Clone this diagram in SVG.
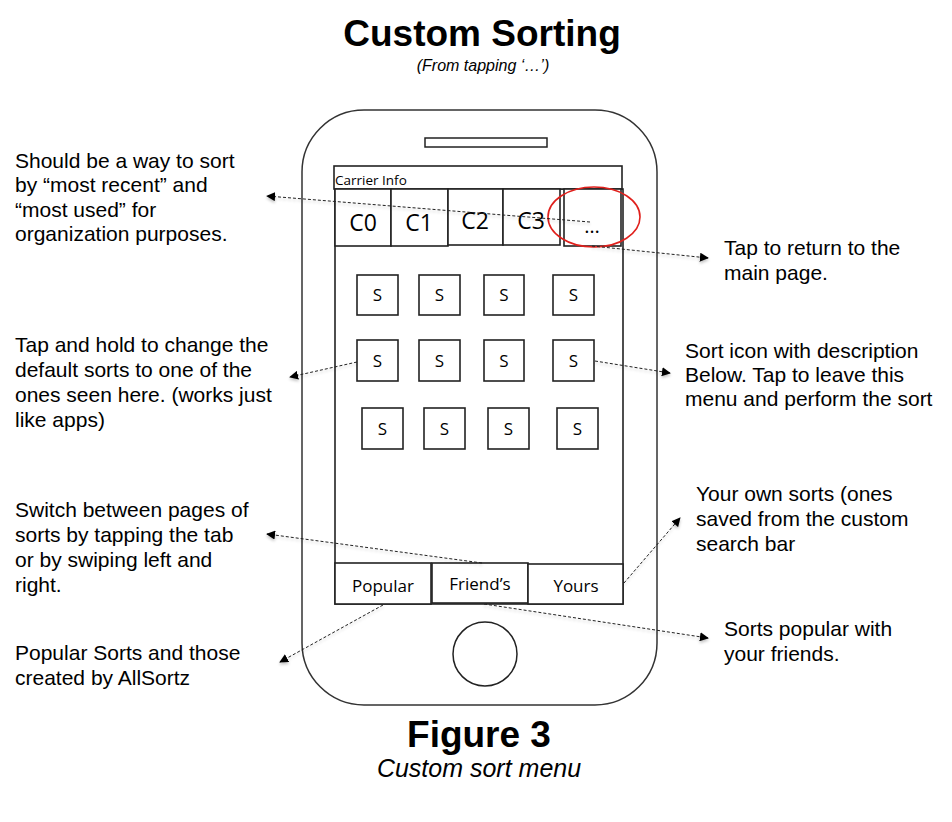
<svg xmlns="http://www.w3.org/2000/svg" width="952" height="822" viewBox="0 0 952 822">
  <defs>
    <marker id="arrow" viewBox="0 0 10 10" refX="9" refY="5" markerWidth="9" markerHeight="9" markerUnits="userSpaceOnUse" orient="auto">
      <path d="M0,0 L10,5 L0,10 Z" fill="#000"/>
    </marker>
    <filter id="soft" x="-10%" y="-50%" width="120%" height="200%">
      <feGaussianBlur in="SourceAlpha" stdDeviation="1.5"/>
      <feOffset dx="0" dy="2" result="b"/>
      <feComponentTransfer><feFuncA type="linear" slope="0.25"/></feComponentTransfer>
      <feMerge><feMergeNode/><feMergeNode in="SourceGraphic"/></feMerge>
    </filter>
    <style>
      .note { font-family: "Liberation Sans", Arial, sans-serif; font-size: 21px; fill: #000; }
      .ui { font-family: "Open Sans", "Noto Sans", sans-serif; fill: #000; }
      .box { fill: #fff; stroke: #222; stroke-width: 1.6; }
      .link { fill: none; stroke: #222; stroke-width: 1; stroke-dasharray: 3 2; marker-end: url(#arrow); }
    </style>
  </defs>

  <rect width="952" height="822" fill="#fff"/>

  <!-- Title -->
  <g id="title">
    <text x="482" y="46" text-anchor="middle" font-family="Liberation Sans, Arial, sans-serif" font-weight="bold" font-size="37">Custom Sorting</text>
    <text x="483" y="71" text-anchor="middle" font-family="Liberation Sans, Arial, sans-serif" font-style="italic" font-size="16">(From tapping ‘…’)</text>
  </g>

  <!-- Phone body -->
  <g id="phone">
    <rect x="302" y="110" width="355" height="595" rx="62" ry="62" fill="none" stroke="#333" stroke-width="1.5"/>
    <rect x="425" y="138" width="122" height="9" fill="none" stroke="#222" stroke-width="1.5"/>
    <circle cx="485" cy="654" r="32" fill="none" stroke="#222" stroke-width="1.5"/>
    <!-- screen -->
    <rect x="335" y="189" width="288" height="415" fill="none" stroke="#222" stroke-width="1.6"/>
  </g>

  <g id="carrier-bar">
    <rect class="box" x="334" y="166" width="288" height="23"/>
    <text class="ui" x="335" y="185" font-size="13.5">Carrier Info</text>
  </g>

  <!-- Category tabs -->
  <g id="tab-c0">
    <rect class="box" x="335" y="189" width="56" height="57"/>
    <text class="ui" x="363" y="231" font-size="23" text-anchor="middle">C0</text>
  </g>
  <g id="tab-c1">
    <rect class="box" x="391" y="189" width="57" height="57"/>
    <text class="ui" x="419" y="231" font-size="23" text-anchor="middle">C1</text>
  </g>
  <g id="tab-c2">
    <rect class="box" x="448" y="189" width="55" height="56"/>
    <text class="ui" x="475" y="229" font-size="23" text-anchor="middle">C2</text>
  </g>
  <g id="tab-c3">
    <rect class="box" x="503" y="189" width="57" height="56"/>
    <text class="ui" x="531" y="229" font-size="23" text-anchor="middle">C3</text>
  </g>
  <g id="tab-more">
    <rect class="box" x="564" y="189" width="57" height="57"/>
    <text class="ui" x="592" y="233" font-size="20" text-anchor="middle">…</text>
    <ellipse cx="594" cy="217" rx="46" ry="30" fill="none" stroke="#e0201c" stroke-width="1.6"/>
  </g>

  <!-- Sort icons -->
  <g id="sort-r1c1"><rect class="box" x="357" y="275" width="41" height="40"/><text class="ui" x="377.5" y="301" font-size="17" text-anchor="middle">S</text></g>
  <g id="sort-r1c2"><rect class="box" x="419" y="275" width="41" height="40"/><text class="ui" x="439.5" y="301" font-size="17" text-anchor="middle">S</text></g>
  <g id="sort-r1c3"><rect class="box" x="484" y="275" width="40" height="40"/><text class="ui" x="504" y="301" font-size="17" text-anchor="middle">S</text></g>
  <g id="sort-r1c4"><rect class="box" x="553" y="275" width="41" height="40"/><text class="ui" x="573.5" y="301" font-size="17" text-anchor="middle">S</text></g>

  <g id="sort-r2c1"><rect class="box" x="357" y="340" width="41" height="41"/><text class="ui" x="377.5" y="367" font-size="17" text-anchor="middle">S</text></g>
  <g id="sort-r2c2"><rect class="box" x="419" y="340" width="41" height="41"/><text class="ui" x="439.5" y="367" font-size="17" text-anchor="middle">S</text></g>
  <g id="sort-r2c3"><rect class="box" x="484" y="340" width="40" height="41"/><text class="ui" x="504" y="367" font-size="17" text-anchor="middle">S</text></g>
  <g id="sort-r2c4"><rect class="box" x="553" y="340" width="41" height="41"/><text class="ui" x="573.5" y="367" font-size="17" text-anchor="middle">S</text></g>

  <g id="sort-r3c1"><rect class="box" x="362" y="408" width="41" height="41"/><text class="ui" x="382.5" y="435" font-size="17" text-anchor="middle">S</text></g>
  <g id="sort-r3c2"><rect class="box" x="424" y="408" width="41" height="41"/><text class="ui" x="444.5" y="435" font-size="17" text-anchor="middle">S</text></g>
  <g id="sort-r3c3"><rect class="box" x="488" y="408" width="41" height="41"/><text class="ui" x="508.5" y="435" font-size="17" text-anchor="middle">S</text></g>
  <g id="sort-r3c4"><rect class="box" x="557" y="408" width="41" height="41"/><text class="ui" x="577.5" y="435" font-size="17" text-anchor="middle">S</text></g>

  <!-- Bottom tabs -->
  <g id="tab-popular">
    <rect class="box" x="335" y="563" width="96" height="41"/>
    <text class="ui" x="383" y="592" font-size="17" text-anchor="middle">Popular</text>
  </g>
  <g id="tab-friends">
    <rect class="box" x="432" y="563" width="96" height="40"/>
    <text class="ui" x="480" y="590" font-size="17" text-anchor="middle">Friend’s</text>
  </g>
  <g id="tab-yours">
    <rect class="box" x="528" y="564" width="95" height="40"/>
    <text class="ui" x="576" y="592" font-size="17" text-anchor="middle">Yours</text>
  </g>

  <!-- Connectors -->
  <g id="connectors" filter="url(#soft)">
    <line class="link" x1="590" y1="222" x2="267" y2="196"/>
    <line class="link" x1="592" y1="246" x2="708" y2="258"/>
    <line class="link" x1="357" y1="362" x2="290" y2="377"/>
    <line class="link" x1="595" y1="361" x2="670" y2="373"/>
    <line class="link" x1="482" y1="563" x2="267" y2="534"/>
    <line class="link" x1="383" y1="605" x2="280" y2="662"/>
    <line class="link" x1="484" y1="604" x2="708" y2="638"/>
    <line class="link" x1="624" y1="583" x2="680" y2="518"/>
  </g>

  <!-- Annotations -->
  <g id="note-recent">
    <text class="note" x="15" y="168">Should be a way to sort</text>
    <text class="note" x="15" y="192">by “most recent” and</text>
    <text class="note" x="15" y="217">“most used” for</text>
    <text class="note" x="15" y="241">organization purposes.</text>
  </g>
  <g id="note-hold">
    <text class="note" x="15" y="352">Tap and hold to change the</text>
    <text class="note" x="15" y="377">default sorts to one of the</text>
    <text class="note" x="15" y="402">ones seen here. (works just</text>
    <text class="note" x="15" y="427">like apps)</text>
  </g>
  <g id="note-switch">
    <text class="note" x="15" y="517">Switch between pages of</text>
    <text class="note" x="15" y="542">sorts by tapping the tab</text>
    <text class="note" x="15" y="567">or by swiping left and</text>
    <text class="note" x="15" y="592">right.</text>
  </g>
  <g id="note-popular">
    <text class="note" x="15" y="660">Popular Sorts and those</text>
    <text class="note" x="15" y="685">created by AllSortz</text>
  </g>
  <g id="note-return">
    <text class="note" x="724" y="255">Tap to return to the</text>
    <text class="note" x="724" y="280">main page.</text>
  </g>
  <g id="note-icon">
    <text class="note" x="685" y="358">Sort icon with description</text>
    <text class="note" x="685" y="382">Below. Tap to leave this</text>
    <text class="note" x="685" y="406">menu and perform the sort</text>
  </g>
  <g id="note-yours">
    <text class="note" x="696" y="501">Your own sorts (ones</text>
    <text class="note" x="696" y="526">saved from the custom</text>
    <text class="note" x="696" y="551">search bar</text>
  </g>
  <g id="note-friends">
    <text class="note" x="724" y="636">Sorts popular with</text>
    <text class="note" x="724" y="661">your friends.</text>
  </g>

  <!-- Caption -->
  <g id="caption">
    <text x="479" y="747" text-anchor="middle" font-family="Liberation Sans, Arial, sans-serif" font-weight="bold" font-size="37">Figure 3</text>
    <text x="479" y="777" text-anchor="middle" font-family="Liberation Sans, Arial, sans-serif" font-style="italic" font-size="25">Custom sort menu</text>
  </g>
</svg>
